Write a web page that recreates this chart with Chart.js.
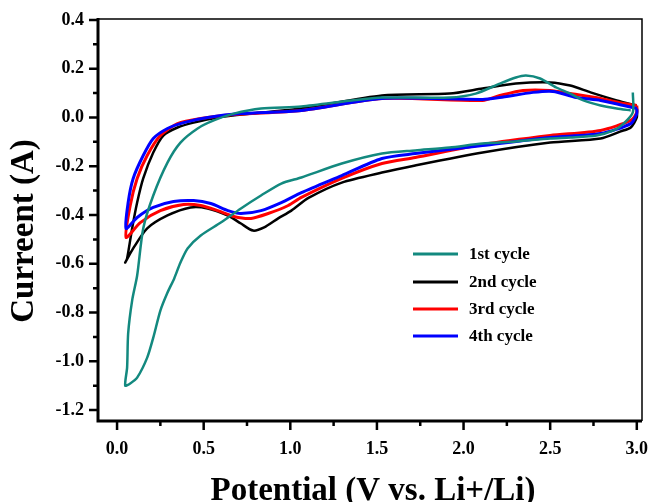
<!DOCTYPE html>
<html>
<head>
<meta charset="utf-8">
<script src="https://cdn.jsdelivr.net/npm/chart.js@4.4.0/dist/chart.umd.min.js"></script>
<style>
  html, body { margin: 0; padding: 0; background: #fff; }
  #wrap { width: 650px; height: 502px; }
</style>
</head>
<body>
<div id="wrap"><canvas id="myChart" width="650" height="502"></canvas></div>
<script>
const seriesNames = ['1st cycle', '2nd cycle', '3rd cycle', '4th cycle'];
const seriesColors = ['#13897f', '#000000', '#ff0000', '#0000ff'];
const xTicks = [0, 0.5, 1.0, 1.5, 2.0, 2.5, 3.0];
const xMinorTicks = [0.25, 0.75, 1.25, 1.75, 2.25, 2.75];
const yTicks = [-1.2, -1.0, -0.8, -0.6, -0.4, -0.2, 0, 0.2, 0.4];
const yMinorTicks = [-1.1, -0.9, -0.7, -0.5, -0.3, -0.1, 0.1, 0.3];
const xTitle = 'Potential (V vs. Li+/Li)';
const yTitle = 'Curreent (A)';

// [potential V, current A] : cathodic sweep 3.0 -> 0.05 V, then anodic back to 3.0 V
const cycle1 = [
  [2.977, 0.103], [2.977, 0.021], [2.924, -0.025], [2.866, -0.053], [2.767, -0.074],
  [2.616, -0.082], [2.5, -0.086], [2.302, -0.098], [2.11, -0.107], [1.919, -0.123],
  [1.721, -0.135], [1.529, -0.148], [1.297, -0.189], [1.064, -0.246],
  [0.948, -0.271], [0.831, -0.32], [0.715, -0.373], [0.599, -0.431], [0.483, -0.484],
  [0.407, -0.537], [0.366, -0.595], [0.33, -0.66], [0.29, -0.72], [0.25, -0.792],
  [0.209, -0.903], [0.174, -0.985], [0.116, -1.067], [0.076, -1.091], [0.047, -1.1],
  [0.058, -1.026], [0.064, -0.886], [0.087, -0.751], [0.116, -0.648], [0.151, -0.455],
  [0.209, -0.32], [0.291, -0.185], [0.366, -0.103], [0.465, -0.045], [0.558, -0.012],
  [0.674, 0.016], [0.831, 0.037], [1.064, 0.045], [1.355, 0.07], [1.529, 0.082],
  [1.919, 0.082], [2.07, 0.098], [2.209, 0.139], [2.302, 0.164], [2.36, 0.172],
  [2.442, 0.16], [2.535, 0.123], [2.616, 0.098], [2.692, 0.07], [2.791, 0.049],
  [2.884, 0.037], [2.965, 0.029]
];
const cycle2 = [
  [3.0, 0.037], [3.0, 0.0], [2.965, -0.041], [2.907, -0.057], [2.791, -0.086],
  [2.5, -0.103], [2.11, -0.144], [1.721, -0.197], [1.529, -0.226], [1.297, -0.267],
  [1.105, -0.33], [1.006, -0.382], [0.93, -0.414], [0.849, -0.451], [0.785, -0.464],
  [0.715, -0.435], [0.64, -0.402], [0.523, -0.373], [0.424, -0.369], [0.291, -0.402],
  [0.174, -0.455], [0.093, -0.537], [0.047, -0.595],
  [0.058, -0.578], [0.087, -0.455], [0.116, -0.349], [0.151, -0.25], [0.209, -0.144],
  [0.267, -0.074], [0.349, -0.041], [0.442, -0.021], [0.581, 0.0], [0.773, 0.016],
  [1.064, 0.037], [1.529, 0.09], [1.919, 0.098], [2.11, 0.119], [2.302, 0.139],
  [2.5, 0.144], [2.616, 0.131], [2.733, 0.103], [2.884, 0.07], [3.0, 0.049]
];
const cycle3 = [
  [3.0, 0.049], [3.0, 0.021], [2.965, -0.012], [2.791, -0.053], [2.5, -0.074],
  [2.11, -0.111], [1.721, -0.164], [1.529, -0.189], [1.297, -0.25], [1.064, -0.328],
  [0.988, -0.361], [0.872, -0.394], [0.773, -0.414], [0.674, -0.406], [0.581, -0.382],
  [0.483, -0.361], [0.384, -0.357], [0.25, -0.382], [0.134, -0.431], [0.052, -0.492],
  [0.076, -0.361], [0.116, -0.25], [0.174, -0.156], [0.25, -0.074], [0.349, -0.025],
  [0.483, -0.004], [0.674, 0.012], [1.064, 0.029], [1.529, 0.078], [2.11, 0.07],
  [2.209, 0.09], [2.343, 0.111], [2.5, 0.111], [2.616, 0.098], [2.791, 0.078],
  [2.924, 0.057], [3.0, 0.049]
];
const cycle4 = [
  [3.0, 0.037], [3.0, 0.016], [2.965, -0.025], [2.791, -0.066], [2.5, -0.082],
  [2.11, -0.115], [1.721, -0.148], [1.529, -0.168], [1.297, -0.238], [1.064, -0.308],
  [0.948, -0.349], [0.831, -0.382], [0.715, -0.394], [0.64, -0.382], [0.541, -0.353],
  [0.442, -0.341], [0.326, -0.345], [0.209, -0.369], [0.116, -0.41], [0.052, -0.455],
  [0.064, -0.349], [0.093, -0.25], [0.151, -0.156], [0.209, -0.086], [0.291, -0.045],
  [0.384, -0.021], [0.523, 0.0], [0.715, 0.016], [1.064, 0.029], [1.529, 0.078],
  [2.11, 0.074], [2.209, 0.082], [2.401, 0.103], [2.517, 0.107], [2.651, 0.082],
  [2.791, 0.07], [2.924, 0.049], [3.0, 0.037]
];
const allCycles = [cycle1, cycle2, cycle3, cycle4];
const drawOrder = [0, 3, 2, 1]; // teal on top, then blue, red, black

const serif = "'Liberation Serif', 'DejaVu Serif', serif";

// axis box + outward ticks + axis titles, placed from the chart's own scales
const frame = {
  id: 'frame',
  afterDatasetsDraw(chart) {
    const {ctx, chartArea: {left, right, top, bottom}, scales: {x, y}} = chart;
    ctx.save();
    ctx.strokeStyle = '#000';
    ctx.lineWidth = 1.5;
    ctx.beginPath();
    ctx.moveTo(left, top); ctx.lineTo(right, top); ctx.lineTo(right, bottom);
    ctx.stroke();
    ctx.lineWidth = 3;
    ctx.beginPath();
    ctx.moveTo(left, top - 1); ctx.lineTo(left, bottom); ctx.lineTo(right, bottom);
    ctx.stroke();
    ctx.lineWidth = 2.5;
    ctx.beginPath();
    xTicks.forEach(v => { let p = x.getPixelForValue(v); ctx.moveTo(p, bottom); ctx.lineTo(p, bottom + 9); });
    xMinorTicks.forEach(v => { let p = x.getPixelForValue(v); ctx.moveTo(p, bottom); ctx.lineTo(p, bottom + 5); });
    yTicks.forEach(v => { let p = y.getPixelForValue(v); ctx.moveTo(left, p); ctx.lineTo(left - 9, p); });
    yMinorTicks.forEach(v => { let p = y.getPixelForValue(v); ctx.moveTo(left, p); ctx.lineTo(left - 5, p); });
    ctx.stroke();

    ctx.fillStyle = '#000';
    ctx.font = 'bold 33px ' + serif;
    ctx.textAlign = 'center';
    ctx.textBaseline = 'alphabetic';
    ctx.fillText(xTitle, (left + right) / 2 + 3, 500);
    ctx.translate(33, (top + bottom) / 2 + 11);
    ctx.rotate(-Math.PI / 2);
    ctx.fillText(yTitle, 0, 0);
    ctx.restore();
  }
};

// legend in the lower right of the plot
const innerLegend = {
  id: 'innerLegend',
  afterDraw(chart) {
    const ctx = chart.ctx;
    const rows = [254, 282, 309, 336];
    ctx.save();
    ctx.font = 'bold 17px ' + serif;
    ctx.textBaseline = 'middle';
    seriesNames.forEach((name, i) => {
      ctx.strokeStyle = seriesColors[i];
      ctx.lineWidth = 3;
      ctx.beginPath();
      ctx.moveTo(413, rows[i]); ctx.lineTo(458, rows[i]);
      ctx.stroke();
      ctx.fillStyle = '#000';
      ctx.fillText(name, 469, rows[i] + 1);
    });
    ctx.restore();
  }
};

const fmt = v => Number(v).toFixed(1);
const noPad = s => { s.paddingLeft = 0; s.paddingRight = 0; s.paddingTop = 0; s.paddingBottom = 0; };

let grapharea = document.getElementById('myChart');
let myChart = new Chart(grapharea, {
  type: 'scatter',
  data: {
    datasets: allCycles.map((c, i) => ({
      label: seriesNames[i],
      data: c.map(p => ({x: p[0], y: p[1]})),
      showLine: true,
      borderColor: seriesColors[i],
      backgroundColor: seriesColors[i],
      borderWidth: i === 1 || i === 0 ? 2.5 : 3,
      pointRadius: 0,
      tension: 0.25,
      order: drawOrder[i]
    }))
  },
  options: {
    responsive: false,
    animation: false,
    devicePixelRatio: 1,
    layout: {padding: {left: 0, right: 8, top: 19, bottom: 0}},
    plugins: {
      legend: {display: false},
      tooltip: {enabled: false}
    },
    scales: {
      x: {
        type: 'linear',
        min: -0.11,
        max: 3.03,
        afterBuildTicks: s => { s.ticks = xTicks.map(v => ({value: v})); },
        afterFit: s => { s.height = 81; noPad(s); },
        grid: {display: false, drawTicks: false},
        border: {display: false},
        ticks: {
          padding: 18,
          color: '#000',
          font: {family: serif, size: 18, weight: 'bold'},
          callback: fmt,
          maxRotation: 0
        }
      },
      y: {
        type: 'linear',
        min: -1.245,
        max: 0.404,
        afterBuildTicks: s => { s.ticks = yTicks.map(v => ({value: v})); },
        afterFit: s => { s.width = 98; noPad(s); },
        grid: {display: false, drawTicks: false},
        border: {display: false},
        ticks: {
          padding: 14,
          color: '#000',
          font: {family: serif, size: 18, weight: 'bold'},
          callback: fmt
        }
      }
    }
  },
  plugins: [frame, innerLegend]
});
</script>
</body>
</html>
